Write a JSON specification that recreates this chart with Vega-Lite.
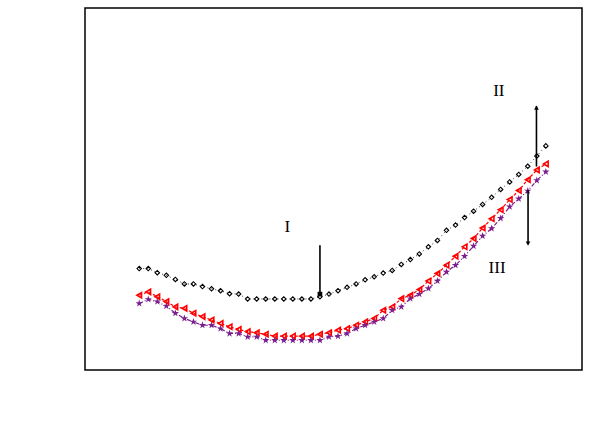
{
  "$schema": "https://vega.github.io/schema/vega-lite/v6.json",
  "width": 497,
  "height": 362,
  "autosize": {"type": "none"},
  "padding": {"left": 85, "top": 8, "right": 9, "bottom": 66},
  "background": "white",
  "config": {
    "view": {"stroke": "black", "strokeWidth": 1.5},
    "axis": {
      "domainColor": "black", "domainWidth": 1.5,
      "labelFont": "DejaVu Sans", "labelFontSize": 12, "labelColor": "#222",
      "titleFont": "Liberation Mono", "titleFontSize": 19, "titleFontWeight": "normal", "titleColor": "#111",
      "grid": false
    }
  },
  "datasets": {
    "seriesI": [
      {"x":1,"y":0.0533},{"x":2,"y":0.0533},{"x":3,"y":0.0522},{"x":4,"y":0.0515},{"x":5,"y":0.0504},
      {"x":6,"y":0.0492},{"x":7,"y":0.0492},{"x":8,"y":0.0485},{"x":9,"y":0.0479},{"x":10,"y":0.0474},
      {"x":11,"y":0.0466},{"x":12,"y":0.0465},{"x":13,"y":0.0452},{"x":14,"y":0.0452},{"x":15,"y":0.0452},
      {"x":16,"y":0.0452},{"x":17,"y":0.0452},{"x":18,"y":0.0452},{"x":19,"y":0.0452},{"x":20,"y":0.0452},
      {"x":21,"y":0.0458},{"x":22,"y":0.0465},{"x":23,"y":0.0474},{"x":24,"y":0.0483},{"x":25,"y":0.0492},
      {"x":26,"y":0.0503},{"x":27,"y":0.0511},{"x":28,"y":0.0521},{"x":29,"y":0.0528},{"x":30,"y":0.0544},
      {"x":31,"y":0.0557},{"x":32,"y":0.0572},{"x":33,"y":0.0591},{"x":34,"y":0.0608},{"x":35,"y":0.0635},
      {"x":36,"y":0.0649},{"x":37,"y":0.0669},{"x":38,"y":0.0686},{"x":39,"y":0.0704},{"x":40,"y":0.0723},
      {"x":41,"y":0.0744},{"x":42,"y":0.0764},{"x":43,"y":0.0784},{"x":44,"y":0.0806},{"x":45,"y":0.0833},
      {"x":46,"y":0.0860}
    ],
    "seriesII": [
      {"x":1,"y":0.0462},{"x":2,"y":0.0471},{"x":3,"y":0.0458},{"x":4,"y":0.0445},{"x":5,"y":0.0431},
      {"x":6,"y":0.0427},{"x":7,"y":0.0414},{"x":8,"y":0.0405},{"x":9,"y":0.0396},{"x":10,"y":0.0387},
      {"x":11,"y":0.0378},{"x":12,"y":0.0371},{"x":13,"y":0.0365},{"x":14,"y":0.0362},{"x":15,"y":0.0358},
      {"x":16,"y":0.0353},{"x":17,"y":0.0353},{"x":18,"y":0.0353},{"x":19,"y":0.0353},{"x":20,"y":0.0353},
      {"x":21,"y":0.0358},{"x":22,"y":0.0362},{"x":23,"y":0.0369},{"x":24,"y":0.0373},{"x":25,"y":0.0382},
      {"x":26,"y":0.0391},{"x":27,"y":0.0400},{"x":28,"y":0.0422},{"x":29,"y":0.0431},{"x":30,"y":0.0453},
      {"x":31,"y":0.0462},{"x":32,"y":0.0477},{"x":33,"y":0.0500},{"x":34,"y":0.0520},{"x":35,"y":0.0542},
      {"x":36,"y":0.0566},{"x":37,"y":0.0591},{"x":38,"y":0.0613},{"x":39,"y":0.0641},{"x":40,"y":0.0666},
      {"x":41,"y":0.0690},{"x":42,"y":0.0717},{"x":43,"y":0.0741},{"x":44,"y":0.0770},{"x":45,"y":0.0796},
      {"x":46,"y":0.0812}
    ],
    "seriesIII": [
      {"x":1,"y":0.0440},{"x":2,"y":0.0451},{"x":3,"y":0.0445},{"x":4,"y":0.0433},{"x":5,"y":0.0414},
      {"x":6,"y":0.0400},{"x":7,"y":0.0391},{"x":8,"y":0.0382},{"x":9,"y":0.0382},{"x":10,"y":0.0373},
      {"x":11,"y":0.0360},{"x":12,"y":0.0360},{"x":13,"y":0.0351},{"x":14,"y":0.0351},{"x":15,"y":0.0342},
      {"x":16,"y":0.0342},{"x":17,"y":0.0342},{"x":18,"y":0.0342},{"x":19,"y":0.0342},{"x":20,"y":0.0342},
      {"x":21,"y":0.0342},{"x":22,"y":0.0351},{"x":23,"y":0.0353},{"x":24,"y":0.0360},{"x":25,"y":0.0373},
      {"x":26,"y":0.0382},{"x":27,"y":0.0391},{"x":28,"y":0.0400},{"x":29,"y":0.0422},{"x":30,"y":0.0431},
      {"x":31,"y":0.0453},{"x":32,"y":0.0465},{"x":33,"y":0.0480},{"x":34,"y":0.0500},{"x":35,"y":0.0524},
      {"x":36,"y":0.0542},{"x":37,"y":0.0566},{"x":38,"y":0.0593},{"x":39,"y":0.0620},{"x":40,"y":0.0640},
      {"x":41,"y":0.0667},{"x":42,"y":0.0698},{"x":43,"y":0.0719},{"x":44,"y":0.0740},{"x":45,"y":0.0768},
      {"x":46,"y":0.0791}
    ],
    "arrows": [
      {"x":21,"y":0.0595,"y2":0.0464},
      {"x":44.96,"y":0.0966,"y2":0.0805},
      {"x":44.03,"y":0.0742,"y2":0.0597}
    ],
    "heads": [
      {"x":21,"y":0.0465,"shape":"square"},
      {"x":44.96,"y":0.0962,"shape":"triangle-up"},
      {"x":44.03,"y":0.0600,"shape":"triangle-down"}
    ],
    "labels": [
      {"x":17.4,"y":0.0643,"t":"I"},
      {"x":40.8,"y":0.1006,"t":"II"},
      {"x":40.6,"y":0.0534,"t":"III"}
    ]
  },
  "layer": [
    {
      "data": {"name": "seriesI"},
      "mark": {"type": "line", "color": "black", "strokeWidth": 0.8, "strokeDash": [1, 3]},
      "encoding": {
        "x": {
          "field": "x", "type": "quantitative",
          "scale": {"domain": [-5, 50], "nice": false, "zero": false},
          "axis": {
            "title": "Serial Number of Branch Pipe",
            "values": [0,10,20,30,40,50],
            "ticks": true, "tickColor": "black", "tickWidth": 1.5, "tickSize": 6,
            "labelPadding": 12,
            "titleX": 264, "titleY": 59, "titleBaseline": "alphabetic", "titleAnchor": "middle"
          }
        },
        "y": {
          "field": "y", "type": "quantitative",
          "scale": {"domain": [0.02627, 0.12275], "nice": false, "zero": false},
          "axis": {
            "title": "Flow Rate of Mass\u00a0 Kg/s",
            "values": [0.03,0.04,0.05,0.06,0.07,0.08,0.09,0.1,0.11,0.12],
            "format": ".2f",
            "ticks": true, "tickColor": "black", "tickWidth": 1.5, "tickSize": 7,
            "labelPadding": 5,
            "titleAngle": -90, "titleX": -56, "titleY": 230, "titleBaseline": "alphabetic", "titleAlign": "center"
          }
        }
      }
    },
    {
      "data": {"name": "seriesI"},
      "mark": {"type": "point", "shape": "diamond", "size": 20, "filled": false, "stroke": "black", "strokeWidth": 1.1, "opacity": 1},
      "encoding": {"x": {"field": "x", "type": "quantitative", "axis": null}, "y": {"field": "y", "type": "quantitative", "axis": null}}
    },
    {
      "data": {"name": "seriesII"},
      "mark": {"type": "line", "color": "#ff0000", "strokeWidth": 1.2, "strokeDash": [3, 2]},
      "encoding": {"x": {"field": "x", "type": "quantitative", "axis": null}, "y": {"field": "y", "type": "quantitative", "axis": null}}
    },
    {
      "data": {"name": "seriesII"},
      "mark": {"type": "point", "shape": "triangle-left", "size": 28, "filled": false, "stroke": "#ff0000", "strokeWidth": 1.6, "opacity": 1},
      "encoding": {"x": {"field": "x", "type": "quantitative", "axis": null}, "y": {"field": "y", "type": "quantitative", "axis": null}}
    },
    {
      "data": {"name": "seriesIII"},
      "mark": {"type": "line", "color": "#7b1f8e", "strokeWidth": 1.2, "strokeDash": [4, 2, 1, 2]},
      "encoding": {"x": {"field": "x", "type": "quantitative", "axis": null}, "y": {"field": "y", "type": "quantitative", "axis": null}}
    },
    {
      "data": {"name": "seriesIII"},
      "mark": {"type": "point", "shape": "M0,-1L0.2245,-0.309L0.951,-0.309L0.363,0.118L0.588,0.809L0,0.382L-0.588,0.809L-0.363,0.118L-0.951,-0.309L-0.2245,-0.309Z", "size": 60, "filled": true, "color": "#7b1f8e", "opacity": 1},
      "encoding": {"x": {"field": "x", "type": "quantitative", "axis": null}, "y": {"field": "y", "type": "quantitative", "axis": null}}
    },
    {
      "data": {"name": "arrows"},
      "mark": {"type": "rule", "color": "black", "strokeWidth": 1.6},
      "encoding": {"x": {"field": "x", "type": "quantitative", "axis": null}, "y": {"field": "y", "type": "quantitative", "axis": null}, "y2": {"field": "y2"}}
    },
    {
      "data": {"name": "heads"},
      "mark": {"type": "point", "filled": true, "color": "black", "size": 22, "opacity": 1},
      "encoding": {"x": {"field": "x", "type": "quantitative", "axis": null}, "y": {"field": "y", "type": "quantitative", "axis": null}, "shape": {"field": "shape", "type": "nominal", "scale": null}}
    },
    {
      "data": {"name": "labels"},
      "mark": {"type": "text", "font": "Liberation Serif", "fontSize": 17, "color": "black", "align": "center", "baseline": "middle"},
      "encoding": {"x": {"field": "x", "type": "quantitative", "axis": null}, "y": {"field": "y", "type": "quantitative", "axis": null}, "text": {"field": "t"}}
    }
  ]
}
